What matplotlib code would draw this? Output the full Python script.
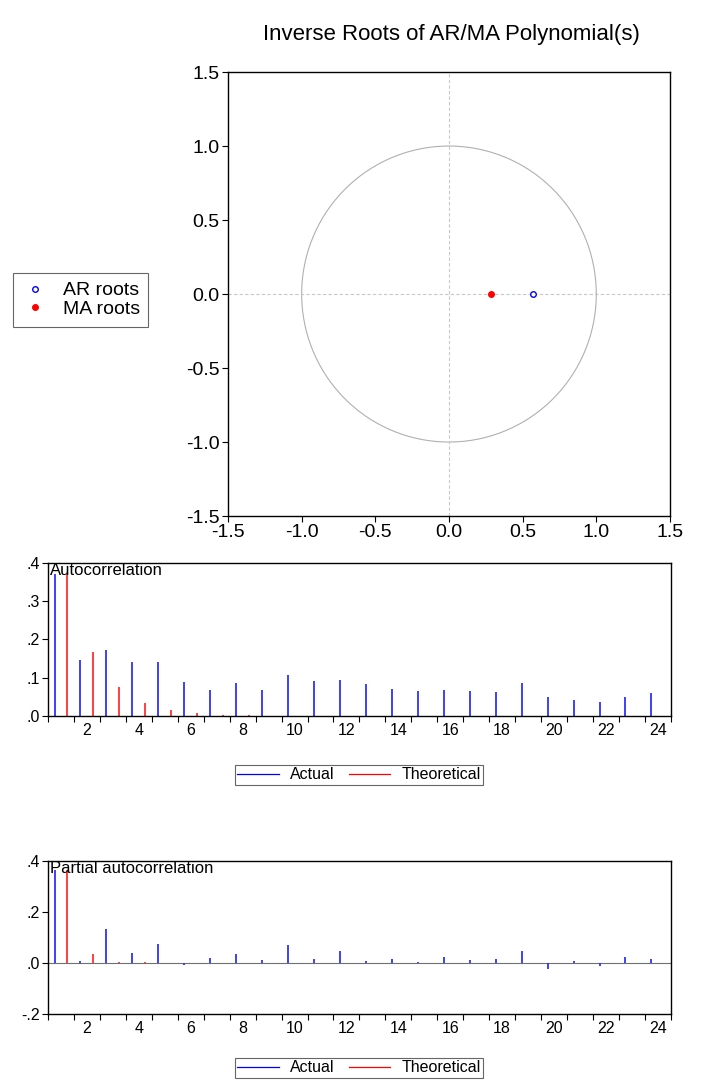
import numpy as np
import matplotlib
matplotlib.use('Agg')
import matplotlib.pyplot as plt
from matplotlib.lines import Line2D
from matplotlib.ticker import FixedLocator, FuncFormatter

plt.rcParams['font.family'] = ['Liberation Sans', 'DejaVu Sans']

# inverse roots (real, imaginary)
ar_re = [0.57]
ar_im = [0.0]
ma_re = [0.285]
ma_im = [0.0]

lags = list(range(1, 25))
acf_actual = [0.370, 0.146, 0.173, 0.142, 0.141, 0.088, 0.067, 0.085, 0.069, 0.106,
              0.091, 0.095, 0.084, 0.070, 0.064, 0.067, 0.064, 0.063, 0.085, 0.050,
              0.041, 0.037, 0.050, 0.059]
acf_theory = [0.370, 0.166, 0.075, 0.033, 0.015, 0.007, 0.003, 0.0015, 0.0007, 0.0003,
              0.0001, 0.0, 0.0, 0.0, 0.0, 0.0, 0.0, 0.0, 0.0, 0.0,
              0.0, 0.0, 0.0, 0.0]
pacf_actual = [0.365, 0.009, 0.134, 0.039, 0.076, -0.008, 0.018, 0.034, 0.010, 0.072,
               0.014, 0.048, 0.008, 0.014, 0.004, 0.022, 0.012, 0.017, 0.046, -0.023,
               0.009, -0.012, 0.022, 0.017]
pacf_theory = [0.365, 0.034, 0.004, 0.002, 0.001, 0.0005, 0.0003, 0.0002, 0.0001, 0.0,
               0.0, 0.0, 0.0, 0.0, 0.0, 0.0, 0.0, 0.0, 0.0, 0.0,
               0.0, 0.0, 0.0, 0.0]

BLUE = '#3030ff'
RED = '#ff3030'

fig = plt.figure(figsize=(7.03, 10.83), dpi=100)

# ---- inverse roots plot ----
ax = fig.add_axes([0.3243, 0.5235, 0.6287, 0.41])
t = np.linspace(0, 2 * np.pi, 400)
ax.plot(np.cos(t), np.sin(t), color='#b0b0b0', lw=0.8)
ax.axhline(0, color='#c8c8c8', lw=0.8, ls=(0, (3, 2)))
ax.axvline(0, color='#c8c8c8', lw=0.8, ls=(0, (3, 2)))
ax.plot(ar_re, ar_im, 'o', mfc='white', mec='blue', ms=4, mew=1, zorder=3)
ax.plot(ma_re, ma_im, 'o', mfc='red', mec='red', ms=4, zorder=3)
ax.set_xlim(-1.5, 1.5)
ax.set_ylim(-1.5, 1.5)
ticks = [-1.5, -1.0, -0.5, 0.0, 0.5, 1.0, 1.5]
ax.set_xticks(ticks)
ax.set_yticks(ticks)
ax.set_xticklabels([f'{v:.1f}' for v in ticks])
ax.set_yticklabels([f'{v:.1f}' for v in ticks])
ax.tick_params(direction='out', length=4, width=0.8, labelsize=14, pad=2)
for s in ax.spines.values():
    s.set_linewidth(1.0)
fig.text(0.642, 0.968, 'Inverse Roots of AR/MA Polynomial(s)', ha='center', va='center',
         fontsize=16)

handles = [Line2D([], [], ls='none', marker='o', mfc='white', mec='blue', ms=4),
           Line2D([], [], ls='none', marker='o', mfc='red', mec='red', ms=4)]
leg = fig.legend(handles, ['AR roots', 'MA roots'], loc='upper left',
                 bbox_to_anchor=(13 / 703, 1 - 273 / 1083), fontsize=14,
                 frameon=True, fancybox=False, edgecolor='#404040',
                 handletextpad=0.7, borderpad=0.45, labelspacing=0.05,
                 handlelength=1.4, borderaxespad=0)
leg.get_frame().set_linewidth(0.8)


def corr_panel(rect, actual, theory, ylim, yticks, title):
    a = fig.add_axes(rect)
    x = np.array(lags)
    a.vlines(x - 0.25, 0, actual, color=BLUE, lw=1.3)
    a.vlines(x + 0.25, 0, theory, color=RED, lw=1.3)
    if ylim[0] < 0:
        a.axhline(0, color='#707070', lw=0.8, zorder=0)
    a.set_xlim(0.5, 24.5)
    a.set_ylim(*ylim)
    a.xaxis.set_major_locator(FixedLocator(np.arange(0.5, 25, 1)))
    a.xaxis.set_major_formatter(FuncFormatter(lambda v, p: ''))
    a.xaxis.set_minor_locator(FixedLocator(np.arange(2, 25, 2)))
    a.xaxis.set_minor_formatter(FuncFormatter(lambda v, p: f'{int(round(v))}'))
    a.tick_params(axis='x', which='minor', length=0, labelsize=11.5, pad=5)
    a.tick_params(axis='x', which='major', direction='out', length=4, width=0.8)
    a.set_yticks(yticks)
    a.set_yticklabels([('-' if v < 0 else '') + f'{abs(v):.1f}'.lstrip('0') for v in yticks])
    a.tick_params(axis='y', direction='out', length=4, width=0.8, labelsize=11.5, pad=2)
    for s in a.spines.values():
        s.set_linewidth(1.0)
    a.text(0.003, 1.0, title, transform=a.transAxes, ha='left', va='top',
           fontsize=12, zorder=5)
    return a


corr_panel([0.0683, 0.3389, 0.886, 0.1413], acf_actual, acf_theory,
           (0, 0.4), [0.0, 0.1, 0.2, 0.3, 0.4], 'Autocorrelation')
corr_panel([0.0683, 0.0637, 0.886, 0.1413], pacf_actual, pacf_theory,
           (-0.2, 0.4), [-0.2, 0.0, 0.2, 0.4], 'Partial autocorrelation')

lh = [Line2D([], [], color='blue', lw=0.9), Line2D([], [], color='red', lw=0.9)]
for ytop in (765, 1058):
    lg = fig.legend(lh, ['Actual', 'Theoretical'], loc='upper center',
                    bbox_to_anchor=(359 / 703, 1 - ytop / 1083), ncol=2, fontsize=11.5,
                    frameon=True, fancybox=False, edgecolor='#404040',
                    handlelength=2.6, columnspacing=0.9, borderpad=0.15,
                    handletextpad=0.7, borderaxespad=0)
    lg.get_frame().set_linewidth(0.8)

fig.savefig('out.png', dpi=100)
